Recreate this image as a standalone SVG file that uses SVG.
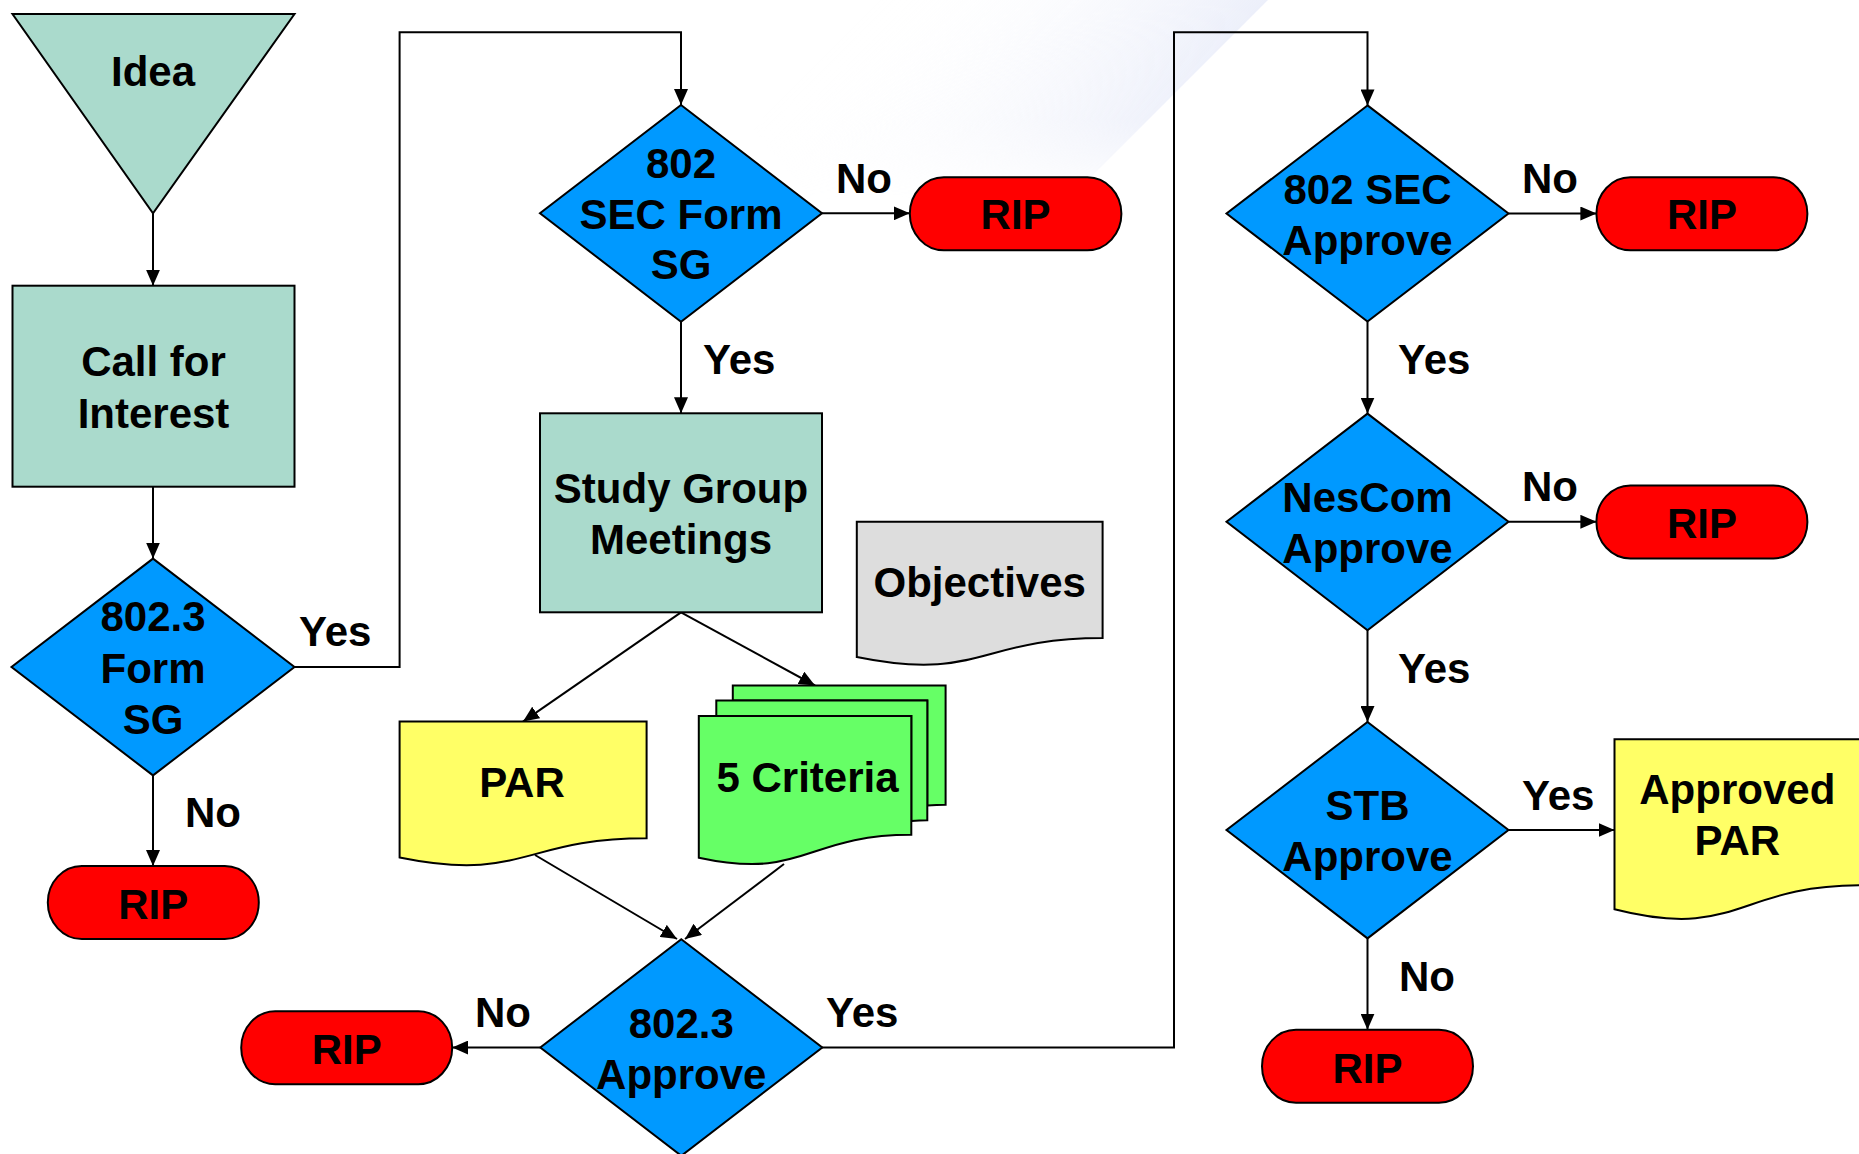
<svg xmlns="http://www.w3.org/2000/svg" width="1859" height="1154" viewBox="0 0 1859 1154">
<style>
  .t { font-family: "Liberation Sans", Arial, sans-serif; font-weight: bold; font-size: 42px; fill: #000; text-anchor: middle; }
  .l { font-family: "Liberation Sans", Arial, sans-serif; font-weight: bold; font-size: 42px; fill: #000; text-anchor: start; }
  .teal { fill: #AADACC; stroke: #000; stroke-width: 2; }
  .dia { fill: #0099FF; stroke: #000; stroke-width: 2; }
  .rip { fill: #FF0000; stroke: #000; stroke-width: 2; }
  .yel { fill: #FFFF66; stroke: #000; stroke-width: 2; }
  .grn { fill: #66FF66; stroke: #000; stroke-width: 2; }
  .gry { fill: #DDDDDD; stroke: #000; stroke-width: 2; }
  .c { fill: none; stroke: #000; stroke-width: 2; }
  .a { marker-end: url(#arr); }
</style>
<defs>
  <marker id="arr" markerUnits="userSpaceOnUse" markerWidth="16" markerHeight="14" refX="16" refY="7" orient="auto">
    <path d="M0,0 L16,7 L0,14 Z" fill="#000"/>
  </marker>
  <linearGradient id="bg" gradientUnits="userSpaceOnUse" x1="634" y1="634" x2="440" y2="440">
    <stop offset="0" stop-color="#ECEFFA"/>
    <stop offset="1" stop-color="#FFFFFF" stop-opacity="0"/>
  </linearGradient>
  <linearGradient id="bgv" gradientUnits="userSpaceOnUse" x1="0" y1="0" x2="0" y2="200">
    <stop offset="0" stop-color="#fff" stop-opacity="1"/>
    <stop offset="0.6" stop-color="#fff" stop-opacity="0.8"/>
    <stop offset="1" stop-color="#fff" stop-opacity="0"/>
  </linearGradient>
  <mask id="fadev">
    <rect x="0" y="0" width="1859" height="220" fill="url(#bgv)"/>
  </mask>
</defs>
<rect x="0" y="0" width="1859" height="1154" fill="#FFFFFF"/>
<polygon points="640,0 1268,0 1060,208 820,208" fill="url(#bg)" mask="url(#fadev)"/>

<g id="connectors">
  <line class="c a" x1="153" y1="213.3" x2="153" y2="285.7"/>
  <line class="c a" x1="153" y1="486.7" x2="153" y2="558.6"/>
  <polyline class="c a" points="294.5,667 399.6,667 399.6,32.3 681,32.3 681,105"/>
  <line class="c a" x1="153" y1="775.4" x2="153" y2="866"/>
  <line class="c a" x1="822" y1="213.3" x2="909.8" y2="213.3"/>
  <line class="c a" x1="681" y1="321.7" x2="681" y2="413.3"/>
  <line class="c a" x1="681" y1="612.4" x2="523" y2="721.6"/>
  <line class="c a" x1="681" y1="612.4" x2="815" y2="685.5"/>
  <line class="c a" x1="535" y1="855" x2="677" y2="939"/>
  <line class="c a" x1="784" y1="864" x2="685" y2="939"/>
  <line class="c a" x1="540.3" y1="1047.5" x2="452.2" y2="1047.5"/>
  <polyline class="c a" points="822,1047.5 1174,1047.5 1174,32.3 1367.5,32.3 1367.5,105.4"/>
  <line class="c a" x1="1508.5" y1="213.5" x2="1596.4" y2="213.5"/>
  <line class="c a" x1="1367.5" y1="321.6" x2="1367.5" y2="413.6"/>
  <line class="c a" x1="1508.5" y1="521.8" x2="1596.4" y2="521.8"/>
  <line class="c a" x1="1367.5" y1="630.2" x2="1367.5" y2="722"/>
  <line class="c a" x1="1508.5" y1="830" x2="1614.5" y2="830"/>
  <line class="c a" x1="1367.5" y1="938.4" x2="1367.5" y2="1029.7"/>
</g>

<g id="labels">
  <text class="l" x="299" y="645.5">Yes</text>
  <text class="l" x="185" y="827.4">No</text>
  <text class="l" x="836" y="193.3">No</text>
  <text class="l" x="703" y="374">Yes</text>
  <text class="l" x="475" y="1027">No</text>
  <text class="l" x="826" y="1027">Yes</text>
  <text class="l" x="1522" y="193">No</text>
  <text class="l" x="1398" y="373.7">Yes</text>
  <text class="l" x="1522" y="501.3">No</text>
  <text class="l" x="1398" y="683.1">Yes</text>
  <text class="l" x="1522" y="810">Yes</text>
  <text class="l" x="1399" y="991">No</text>
</g>

<g id="idea">
  <polygon class="teal" points="12.5,14 294.5,14 153,213.3"/>
  <text class="t" x="153" y="86">Idea</text>
</g>

<g id="call-for-interest">
  <rect class="teal" x="12.5" y="285.7" width="282" height="201"/>
  <text class="t" x="153.5" y="376">Call for</text>
  <text class="t" x="153.5" y="428">Interest</text>
</g>

<g id="form-sg-8023">
  <polygon class="dia" points="153,558.6 294.5,667 153,775.4 11.5,667"/>
  <text class="t" x="153" y="631.3">802.3</text>
  <text class="t" x="153" y="683">Form</text>
  <text class="t" x="153" y="733.7">SG</text>
</g>

<g id="rip-1">
  <rect class="rip" x="47.8" y="866" width="211" height="73" rx="34" ry="36.5"/>
  <text class="t" x="153.3" y="918.5">RIP</text>
</g>

<g id="sec-form-sg">
  <polygon class="dia" points="681,105 822,213.3 681,321.7 540,213.3"/>
  <text class="t" x="681" y="178">802</text>
  <text class="t" x="681" y="229.3">SEC Form</text>
  <text class="t" x="681" y="279.3">SG</text>
</g>

<g id="rip-2">
  <rect class="rip" x="909.8" y="177.3" width="211.6" height="73" rx="34" ry="36.5"/>
  <text class="t" x="1015.6" y="229.3">RIP</text>
</g>

<g id="study-group-meetings">
  <rect class="teal" x="540" y="413.3" width="282" height="199"/>
  <text class="t" x="681" y="503">Study Group</text>
  <text class="t" x="681" y="554">Meetings</text>
</g>

<g id="objectives">
  <path class="gry" d="M856.8,521.7 H1102.6 V638 C979.7,638 979.7,682.3 856.8,657.1 Z"/>
  <text class="t" x="979.7" y="597">Objectives</text>
</g>

<g id="par">
  <path class="yel" d="M399.6,721.6 H646.6 V838.3 C523.1,838.3 523.1,882.7 399.6,857.5 Z"/>
  <text class="t" x="522" y="797.3">PAR</text>
</g>

<g id="five-criteria">
  <path class="grn" d="M732.8,700.5 L732.8,685.5 L945.6,685.5 L945.6,804.8 C936.5,804.8 927.3,805.4 927.3,805.4 L927.3,700.5 Z"/>
  <path class="grn" d="M716.3,716 L716.3,700.5 L927.3,700.5 L927.3,820.2 C919.3,820.2 911.3,821 911.3,821 L911.3,716 Z"/>
  <path class="grn" d="M698.8,857.7 C805,880.6 805,834.8 911.3,834.8 L911.3,716 L698.8,716 Z"/>
  <text class="t" x="807.5" y="792">5 Criteria</text>
</g>

<g id="approve-8023">
  <polygon class="dia" points="681.3,939.2 822.3,1047.5 681.3,1155.8 540.3,1047.5"/>
  <text class="t" x="681.3" y="1037.6">802.3</text>
  <text class="t" x="681.3" y="1089.2">Approve</text>
</g>

<g id="rip-3">
  <rect class="rip" x="241.2" y="1011.2" width="211" height="73" rx="34" ry="36.5"/>
  <text class="t" x="346.7" y="1063.8">RIP</text>
</g>

<g id="sec-approve">
  <polygon class="dia" points="1367.5,105.4 1508.5,213.5 1367.5,321.6 1226.5,213.5"/>
  <text class="t" x="1367.5" y="203.5">802 SEC</text>
  <text class="t" x="1367.5" y="254.5">Approve</text>
</g>

<g id="rip-4">
  <rect class="rip" x="1596.4" y="177.3" width="211" height="73" rx="34" ry="36.5"/>
  <text class="t" x="1701.9" y="229.4">RIP</text>
</g>

<g id="nescom-approve">
  <polygon class="dia" points="1367.5,413.6 1508.5,521.8 1367.5,630.2 1226.5,521.8"/>
  <text class="t" x="1367.5" y="512.4">NesCom</text>
  <text class="t" x="1367.5" y="563">Approve</text>
</g>

<g id="rip-5">
  <rect class="rip" x="1596.4" y="485.4" width="211" height="73" rx="34" ry="36.5"/>
  <text class="t" x="1701.9" y="537.8">RIP</text>
</g>

<g id="stb-approve">
  <polygon class="dia" points="1367.5,722 1508.5,830 1367.5,938.4 1226.5,830"/>
  <text class="t" x="1367.5" y="819.5">STB</text>
  <text class="t" x="1367.5" y="870.6">Approve</text>
</g>

<g id="approved-par">
  <path class="yel" d="M1614.5,739.2 H1861 V885.2 C1737.7,885.2 1737.7,940.8 1614.5,909.2 Z"/>
  <text class="t" x="1737.3" y="804.3">Approved</text>
  <text class="t" x="1737.3" y="854.7">PAR</text>
</g>

<g id="rip-6">
  <rect class="rip" x="1262" y="1029.7" width="211" height="73" rx="34" ry="36.5"/>
  <text class="t" x="1367.5" y="1082.7">RIP</text>
</g>
</svg>
